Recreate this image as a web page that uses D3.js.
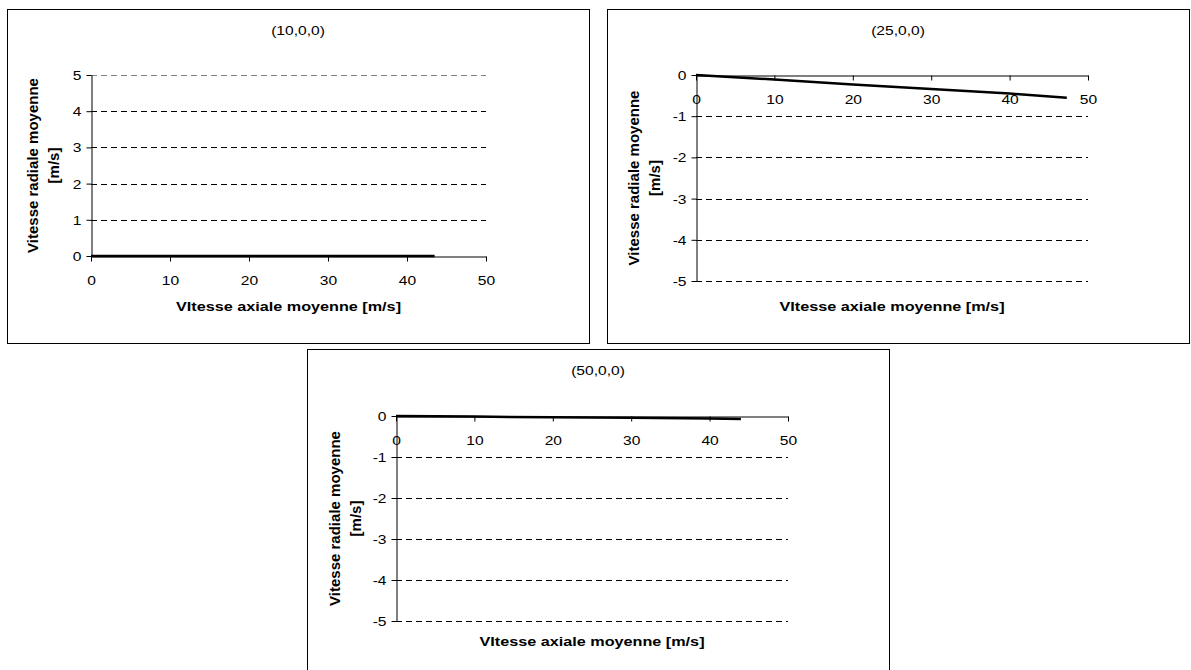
<!DOCTYPE html>
<html><head><meta charset="utf-8">
<script src="https://cdn.jsdelivr.net/npm/d3@7"></script>
<style>
body{margin:0;background:#fff;}
svg{display:block;font-family:"Liberation Sans",Arial,sans-serif;}
</style></head>
<body>
<svg id="c" width="1191" height="670"></svg>
<script>
// Data
const titles = ["(10,0,0)", "(25,0,0)", "(50,0,0)"];
const xTicks = [0, 10, 20, 30, 40, 50];
const yTicksPos = [0, 1, 2, 3, 4, 5];
const yTicksNeg = [0, -1, -2, -3, -4, -5];
const x10 = [0, 10, 20, 30, 40, 43.5];
const y10 = [0, 0, 0, 0, 0, 0];
const x25 = [0, 10, 20, 30, 40, 47.3];
const y25 = [0, -0.11, -0.23, -0.34, -0.45, -0.55];
const x50 = [0, 10, 20, 30, 40, 44];
const y50 = [0, -0.015, -0.03, -0.045, -0.06, -0.075];
const xLabel = "VItesse axiale moyenne [m/s]";
const yLabel = ["Vitesse radiale moyenne", "[m/s]"];

const FS = 13;       // font size
const SX = 1.2;      // horizontal stretch of the reference rendering
const FSY = 15;      // rotated label font size

const svg = d3.select("#c");

const panels = [
  {frame:[7,9,582,334], px:[91,486], py:[256,75], ydom:[0,5], yt:yTicksPos, xs:x10, ys:y10, title:titles[0], neg:false, xlY:311, ylX:[33,54]},
  {frame:[607,9,582,334], px:[696,1088], py:[75,281], ydom:[0,-5], yt:yTicksNeg, xs:x25, ys:y25, title:titles[1], neg:true, xlY:311, ylX:[634,655]},
  {frame:[307,349,582,330], px:[396,788], py:[416,621], ydom:[0,-5], yt:yTicksNeg, xs:x50, ys:y50, title:titles[2], neg:true, xlY:646, ylX:[335,356]}
];

function htext(x, y, t, anchor, bold, fs) {
  return svg.append("text").attr("transform", `translate(${x},${y}) scale(${SX},1)`)
    .attr("text-anchor", anchor).attr("font-size", fs || FS)
    .attr("font-weight", bold ? "bold" : "normal").attr("fill", "#000").text(t);
}

panels.forEach(p => {
  const [fx, fy, fw, fh] = p.frame;
  svg.append("rect").attr("x", fx+0.5).attr("y", fy+0.5).attr("width", fw).attr("height", fh)
    .attr("fill", "#fff").attr("stroke", "#000").attr("stroke-width", 1);

  const x = d3.scaleLinear().domain([0, 50]).range(p.px);
  const y = d3.scaleLinear().domain(p.ydom).range(p.py);
  const g = svg.append("g");

  // gridlines
  g.selectAll("line.grid").data(p.yt.filter(v => v !== 0)).join("line")
    .attr("x1", x(0)).attr("x2", x(50))
    .attr("y1", d => Math.round(y(d)) + 0.5).attr("y2", d => Math.round(y(d)) + 0.5)
    .attr("stroke", (d) => (!p.neg && d === 5) ? "#808080" : "#000")
    .attr("stroke-width", 1).attr("stroke-dasharray", "6,4");

  // y axis
  const yAx = g.append("g").attr("transform", `translate(${Math.round(x(0))+0.5},0)`)
    .call(d3.axisLeft(y).tickValues(p.yt).tickSize(5).tickSizeOuter(0).tickFormat(d => String(d)));
  yAx.select(".domain").attr("stroke", "#000");
  yAx.selectAll("line").attr("stroke", "#000");
  yAx.selectAll(".tick text").remove();
  yAx.selectAll(".tick").each(function(d) {
    d3.select(this).append("text")
      .attr("transform", `translate(-10,0) scale(${SX},1)`)
      .attr("dy", "0.35em").attr("text-anchor", "end")
      .attr("font-size", FS).attr("fill", "#000").attr("font-family", "Liberation Sans, Arial, sans-serif")
      .text(String(d));
  });

  // x axis at y=0
  const xAx = g.append("g").attr("transform", `translate(0,${Math.round(y(0))+0.5})`)
    .call(d3.axisBottom(x).tickValues(xTicks).tickSize(5).tickSizeOuter(0));
  xAx.select(".domain").attr("stroke", "#000");
  xAx.selectAll("line").attr("stroke", "#000");
  xAx.selectAll(".tick text").remove();
  xAx.selectAll(".tick").each(function(d) {
    d3.select(this).append("text")
      .attr("transform", `translate(0,19) scale(${SX},1)`)
      .attr("dy", "0.71em").attr("text-anchor", "middle")
      .attr("font-size", FS).attr("fill", "#000").attr("font-family", "Liberation Sans, Arial, sans-serif")
      .text(String(d));
  });

  // series line
  const pts = p.xs.map((v, i) => [v, p.ys[i]]);
  g.append("path").datum(pts)
    .attr("d", d3.line().x(d => x(d[0])).y(d => y(d[1])))
    .attr("fill", "none").attr("stroke", "#000").attr("stroke-width", 2.5);

  // title
  htext(fx + fw / 2, fy + 26, p.title, "middle", false);

  // x label
  htext((p.px[0] + p.px[1]) / 2, p.xlY, xLabel, "middle", true, 13.5);

  // y label (two lines, rotated), centred on the plot area
  const cy = (p.py[0] + p.py[1]) / 2;
  yLabel.forEach((t, i) => {
    svg.append("text")
      .attr("transform", `translate(${p.ylX[i] + 0.35*FSY},${cy}) rotate(-90)`)
      .attr("text-anchor", "middle").attr("font-size", FSY).attr("font-weight", "bold").text(t);
  });
});
</script>
</body></html>
